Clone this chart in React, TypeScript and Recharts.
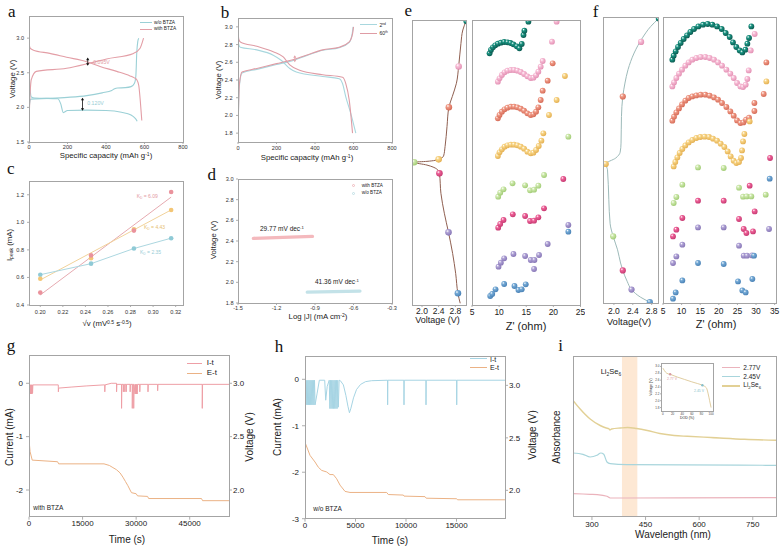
import React from 'react';
import { ComposedChart, Line, Scatter, XAxis, YAxis, ReferenceLine, ReferenceArea } from 'recharts';

const SANS = '"Liberation Sans", Arial, Helvetica, sans-serif';
const SERIF = '"Liberation Serif", "Times New Roman", serif';

type P = [number, number];
type Box = { x: number; y: number; w: number; h: number };
const xy = (a: P[]) => a.map(([x, y]) => ({ x, y }));

// ---------- a: charge/discharge profiles ----------
const aWoDischarge: P[] = [[0, 2.55], [5, 2.3], [12, 2.15], [30, 2.135], [150, 2.125], [165, 2.05], [178, 1.925], [200, 1.955], [300, 1.96], [400, 1.955], [480, 1.93], [530, 1.89], [552, 1.84], [562, 1.8]];
const aWoCharge: P[] = [[0, 1.8], [3, 2.05], [10, 2.12], [100, 2.13], [200, 2.145], [300, 2.17], [380, 2.21], [430, 2.245], [445, 2.27], [460, 2.28], [500, 2.285], [530, 2.3], [548, 2.35], [555, 2.45], [560, 2.8], [565, 2.95], [570, 3.0]];
const aWithDischarge: P[] = [[0, 2.95], [5, 2.86], [20, 2.83], [108, 2.78], [195, 2.725], [300, 2.66], [369, 2.59], [456, 2.52], [525, 2.455], [545, 2.43], [560, 2.4], [570, 2.32], [578, 2.1], [586, 1.81]];
const aWithCharge: P[] = [[0, 1.8], [4, 2.1], [12, 2.4], [38, 2.52], [195, 2.565], [316, 2.64], [403, 2.7], [543, 2.78], [577, 2.855], [595, 3.0]];
const aGapWith: P[] = [[305, 2.6], [305, 2.72]];
const aGapWo: P[] = [[278, 1.95], [278, 2.14]];

// ---------- b: 2nd vs 60th cycle ----------
const b2Discharge: P[] = [[0, 2.85], [4, 2.8], [12, 2.77], [98, 2.74], [183, 2.68], [226, 2.62], [269, 2.53], [303, 2.49], [440, 2.44], [526, 2.415], [543, 2.36], [560, 2.21], [586, 2.02], [612, 1.8]];
const b60Discharge: P[] = [[0, 2.98], [4, 2.86], [12, 2.83], [98, 2.78], [183, 2.72], [235, 2.66], [269, 2.57], [320, 2.51], [440, 2.46], [543, 2.43], [560, 2.36], [578, 2.17], [595, 1.8]];
const b2Charge: P[] = [[0, 1.8], [7, 2.33], [21, 2.48], [98, 2.52], [200, 2.575], [269, 2.61], [355, 2.675], [440, 2.735], [526, 2.765], [578, 2.825], [593, 2.92], [598, 3.0]];
const b60Charge: P[] = [[0, 1.8], [7, 2.35], [21, 2.49], [98, 2.53], [200, 2.585], [269, 2.62], [355, 2.68], [440, 2.74], [526, 2.77], [578, 2.83], [595, 2.92], [600, 3.0]];
const bGap: P[] = [[295, 2.6], [295, 2.68]];

// ---------- c: peak current vs sqrt(scan rate) ----------
const cRate = [0.2, 0.245, 0.283, 0.316];
const cPeakPink = [0.49, 0.76, 0.94, 1.22];
const cPeakYellow = [0.59, 0.74, 0.95, 1.09];
const cPeakBlue = [0.62, 0.7, 0.81, 0.885];
const cFitPink: P[] = [[0.2, 0.473], [0.316, 1.183]];
const cFitYellow: P[] = [[0.2, 0.582], [0.316, 1.09]];

// ---------- d: Tafel ----------
const dWith: P[] = [[-1.38, 2.425], [-0.92, 2.445]];
const dWo: P[] = [[-0.96, 1.905], [-0.55, 1.915]];

// ---------- e: in-situ EIS with BTZA ----------
const eCurve: P[] = [[3.052, 0.6], [2.98, 3.5], [2.935, 8.2], [2.88, 16.3], [2.826, 22.2], [2.726, 26.9], [2.645, 30.6], [2.6, 37.4], [2.554, 44.4], [2.518, 47.7], [2.4, 48.9], [2.119, 49.6], [1.811, 49.9], [2.119, 50.9], [2.355, 52.3], [2.418, 53.8], [2.454, 60.8], [2.536, 67.8], [2.636, 74.5], [2.735, 81.9], [2.808, 88.9], [2.862, 95.9], [2.917, 99.4]];
const eStates: Record<string, P> = { teal: [3.052, 0.6], pink: [2.88, 16.3], salmon: [2.645, 30.6], yellow: [2.4, 48.9], green: [1.811, 49.9], magenta: [2.418, 53.8], purple: [2.636, 74.5], blue: [2.862, 95.9] };
const eTeal: P[] = [[8.24, 251.7], [8.49, 255], [8.85, 257.7], [9.28, 259.7], [9.77, 261.3], [10.32, 262.3], [10.93, 263], [11.54, 262.7], [12.09, 262], [12.64, 260.7], [13.26, 258.7], [13.74, 256.7], [14.17, 261], [14.49, 270], [14.66, 274.3], [15.4, 283.3]];
const ePink: P[] = [[9.77, 223.3], [10.08, 226.7], [10.51, 230], [11.0, 232.7], [11.54, 234.3], [12.15, 235], [12.76, 235], [13.37, 234.3], [13.99, 233], [14.6, 231], [15.21, 228.7], [15.83, 227], [16.32, 227.3], [16.81, 229.7], [17.23, 233.3], [17.66, 238.3], [18.03, 244], [19.74, 263.3], [20.6, 283.3]];
const eSalmon: P[] = [[9.77, 186.7], [10.08, 190], [10.51, 193.3], [11.0, 195.7], [11.54, 197.3], [12.15, 198.3], [12.76, 198.3], [13.37, 197.7], [13.99, 196.3], [14.6, 194.3], [15.21, 191.7], [15.83, 190], [16.32, 190.7], [16.81, 193.3], [17.23, 197.7], [17.66, 205], [18.03, 214.3], [18.95, 224.3], [19.87, 241.7]];
const eYellow: P[] = [[9.77, 149], [10.08, 152.7], [10.51, 155.7], [11.0, 158.3], [11.54, 159.7], [12.15, 160.3], [12.76, 160.3], [13.37, 159.7], [13.99, 158.3], [14.6, 156.3], [15.21, 153.3], [15.83, 151.7], [16.32, 152.3], [16.81, 155], [17.3, 159], [17.79, 164.3], [18.15, 171.7], [19.19, 190], [20.6, 205], [22.13, 229]];
const eGreen: P[] = [[9.83, 108.3], [10.2, 112.3], [10.81, 115.7], [12.47, 121.7], [14.79, 119.7], [15.7, 114.7], [16.44, 115.3], [17.23, 119.3], [18.28, 130], [22.76, 168.3]];
const eMagenta: P[] = [[9.83, 77.3], [10.2, 81], [10.81, 85], [12.52, 90.7], [14.79, 89], [15.7, 84], [16.44, 84.3], [17.23, 87.7], [18.28, 96.7], [21.83, 126]];
const ePurple: P[] = [[9.89, 38.3], [10.32, 42.3], [10.93, 46.7], [12.64, 51], [14.79, 49], [15.83, 45], [16.51, 45], [17.36, 50], [16.44, 36], [18.95, 61], [22.76, 80]];
const eBlue: P[] = [[8.36, 9], [8.73, 11], [9.34, 15.7], [10.93, 21], [12.83, 19], [13.56, 15], [14.17, 15.7], [14.91, 20.7], [22.76, 73.3]];

// ---------- f: in-situ EIS without BTZA ----------
const fCurve: P[] = [[2.937, 0.7], [2.78, 3.3], [2.604, 7.3], [2.428, 12.6], [2.299, 18.4], [2.234, 23.1], [2.188, 27.8], [2.16, 34.8], [2.151, 44.1], [2.132, 47.3], [2.04, 49.3], [1.827, 51.4], [1.864, 53.4], [1.892, 63.9], [1.92, 72.3], [1.984, 76.7], [2.077, 81.4], [2.141, 86], [2.188, 88.6], [2.28, 92.4], [2.373, 95.3], [2.567, 98], [2.761, 99.7]];
const fStates: Record<string, P> = { teal: [2.937, 0.7], pink: [2.576, 8.7], salmon: [2.188, 27.8], yellow: [1.827, 51.4], green: [1.984, 76.7], magenta: [2.188, 88.6], purple: [2.373, 95.3], blue: [2.761, 99.7] };
const fTeal: P[] = [[7.51, 243.3], [7.87, 247.3], [8.41, 251.6], [9.03, 256], [9.75, 260], [10.56, 264], [11.45, 267.6], [12.35, 271], [13.34, 274], [14.5, 276.6], [15.76, 278.3], [17.01, 279], [18.26, 278.3], [19.52, 276.6], [20.77, 274], [21.84, 270], [22.92, 266], [23.81, 260.6], [24.71, 256], [25.61, 252.6], [26.32, 250.6], [27.14, 253.3], [27.67, 259.3], [28.12, 265], [28.74, 276.6]];
const fPink: P[] = [[7.51, 216.6], [7.96, 220.6], [8.59, 225], [9.3, 229.3], [10.11, 233.3], [11.0, 237.3], [11.9, 240.6], [12.89, 243.3], [13.96, 245], [15.13, 246], [16.38, 246], [17.55, 245], [18.71, 243.3], [19.79, 240.6], [20.86, 237.3], [22.03, 233.3], [23.1, 229.3], [24.0, 225], [24.9, 220], [25.8, 216.6], [26.51, 216], [27.22, 218.3], [27.67, 224], [28.03, 232.6], [28.57, 252.6], [29.64, 269]];
const fSalmon: P[] = [[7.51, 182.3], [7.96, 186.3], [8.59, 190.6], [9.3, 194.6], [10.11, 198.6], [11.0, 202.3], [11.9, 205], [12.89, 206.6], [13.96, 207.6], [15.13, 208.3], [16.38, 208.3], [17.55, 207.3], [18.71, 205.6], [19.79, 203.3], [20.86, 200], [22.03, 196], [23.1, 191.6], [24.0, 187.3], [24.9, 182.6], [25.8, 180], [26.61, 180.6], [27.31, 183.3], [28.12, 185.3], [29.56, 192], [29.56, 200], [32.06, 209], [32.78, 240.6]];
const fYellow: P[] = [[7.87, 136.6], [8.31, 141], [8.86, 145.6], [9.48, 150], [10.2, 154], [11.0, 157.6], [11.9, 160.6], [12.89, 163], [13.96, 165], [15.04, 166], [16.2, 166.3], [17.37, 166], [18.44, 164.3], [19.52, 162.3], [20.5, 159.3], [21.49, 156], [22.38, 151.6], [23.18, 146.6], [23.99, 142.3], [24.71, 140], [25.43, 141], [25.97, 145], [26.24, 152.6], [26.51, 161.6], [26.87, 169], [28.29, 181.6], [32.78, 221.6]];
const fGreen: P[] = [[7.87, 100], [8.59, 106], [10.2, 118.3], [14.41, 135.6], [21.31, 135], [25.43, 115.3], [26.51, 106.3], [27.49, 106.6], [28.74, 106.6], [32.6, 108.3]];
const fMagenta: P[] = [[7.69, 66.6], [8.59, 73.3], [10.2, 85], [14.41, 102.3], [21.31, 102.3], [25.43, 84], [26.69, 74], [27.41, 70], [29.19, 71.6], [29.64, 91.6], [28.29, 117.3], [33.77, 145]];
const fPurple: P[] = [[7.69, 40], [8.59, 46.6], [10.2, 58.3], [14.41, 75.6], [21.31, 75.6], [25.43, 57.3], [26.69, 47.3], [27.59, 47.3], [28.93, 47.6], [33.5, 74]];
const fBlue: P[] = [[7.69, 4.3], [8.41, 10.6], [10.2, 22.6], [14.41, 40], [21.31, 39], [25.16, 21.6], [26.32, 12.6], [27.22, 10.6], [29.01, 24], [29.46, 47.3], [33.67, 124.3]];

// ---------- g / h: potentiostatic I-t and E-t ----------
const gIt: P[] = [[0, 0.25], [30, -0.2], [100, -0.03], [160, -0.2], [230, -0.03], [300, -0.2], [370, -0.03], [440, -0.2], [510, -0.03], [580, -0.2], [650, -0.03], [720, -0.2], [790, -0.03], [860, -0.2], [930, -0.03], [1000, -0.18], [1080, -0.03],
  [8200, -0.03], [8220, -0.16], [8300, -0.09], [12000, -0.07], [16000, -0.05], [21000, -0.03],
  [21200, -0.03], [21220, -0.16], [21300, -0.03], [23000, 0.0], [24500, 0.0], [24520, -0.16], [24600, -0.02],
  [25900, -0.02], [25920, -0.47], [26000, -0.02], [26400, -0.02], [26420, -0.16], [26500, -0.02], [26800, -0.02], [26820, -0.16], [26900, -0.02], [27200, -0.02], [27220, -0.16], [27300, -0.02],
  [28300, -0.02], [28320, -0.16], [28400, -0.02], [28900, -0.02], [28920, -0.47], [29000, -0.02], [29300, -0.02], [29320, -0.47], [29400, -0.02],
  [29700, -0.2], [29800, -0.02], [29900, -0.2], [30000, -0.02], [30100, -0.2], [30200, -0.02], [30300, -0.2], [30400, -0.02],
  [31000, -0.02], [31020, -0.16], [31100, -0.02], [33300, -0.02], [33320, -0.16], [33400, -0.02], [36000, -0.02], [36020, -0.14], [36100, -0.02],
  [48500, -0.02], [48520, -0.47], [48600, -0.02], [56000, -0.02]];
const gEt: P[] = [[0, 3.2], [60, 2.45], [300, 2.36], [900, 2.28], [8000, 2.265], [8300, 2.245], [21000, 2.245], [22500, 2.23], [23500, 2.21], [24500, 2.19], [25500, 2.16], [26300, 2.12], [27000, 2.08], [27700, 2.04], [28300, 2.0], [28700, 1.975], [30000, 1.965], [30400, 1.945], [33200, 1.94], [33500, 1.92], [48300, 1.92], [48600, 1.9], [56000, 1.9]];
const hIt: P[] = [[0, 0.3], [15, -2.6], [40, -0.02],
  [120, -0.55], [170, -0.02], [230, -0.55], [280, -0.02], [340, -0.55], [390, -0.02], [450, -0.55], [500, -0.02], [560, -0.55], [610, -0.02], [670, -0.55], [720, -0.02], [780, -0.55], [830, -0.02], [890, -0.55], [940, -0.02], [1000, -0.55],
  [1200, -0.3], [1420, -0.02], [1950, -0.02], [2050, -0.45], [2200, -0.15], [2400, -0.02],
  [2460, -0.63], [2520, -0.02], [2580, -0.63], [2640, -0.02], [2700, -0.63], [2760, -0.02], [2820, -0.63], [2880, -0.02], [2940, -0.63], [3000, -0.02], [3060, -0.63], [3120, -0.02], [3180, -0.63], [3240, -0.02], [3300, -0.6], [3380, -0.02],
  [3500, -0.03], [3800, -0.12], [4050, -0.35], [4250, -0.58], [4400, -0.72], [4550, -0.62], [4800, -0.4], [5100, -0.22], [5500, -0.11], [6000, -0.05], [6600, -0.03],
  [8170, -0.02], [8180, -0.55], [8200, -0.02], [9790, -0.02], [9800, -0.55], [9820, -0.02], [11970, -0.02], [11980, -0.55], [12000, -0.02], [15010, -0.02], [15020, -0.55], [15040, -0.02], [19800, -0.02]];
const hEt: P[] = [[0, 3.2], [30, 2.45], [495, 2.333], [990, 2.27], [1320, 2.22], [1650, 2.19], [2145, 2.175], [2475, 2.15], [2805, 2.15], [3135, 2.11], [3465, 2.05], [3960, 1.99], [4455, 1.98], [8085, 1.98], [8250, 1.96], [9735, 1.955], [9800, 1.945], [11880, 1.94], [12000, 1.925], [15015, 1.92], [15100, 1.91], [19800, 1.91]];

// ---------- i: UV-vis ----------
const iLi2Se6: P[] = [[247, 1.167], [267, 1.08], [295, 0.98], [323, 0.915], [340, 0.89], [347, 0.884], [350, 0.87], [355, 0.88], [380, 0.89], [400, 0.895], [425, 0.885], [455, 0.865], [490, 0.835], [530, 0.815], [567, 0.807], [633, 0.795], [727, 0.777], [815, 0.767]];
const i245: P[] = [[247, 0.64], [275, 0.627], [295, 0.6], [314, 0.617], [325, 0.64], [333, 0.627], [342, 0.55], [351, 0.534], [398, 0.524], [815, 0.517]];
const i277: P[] = [[247, 0.234], [295, 0.227], [315, 0.224], [342, 0.207], [351, 0.19], [400, 0.19], [815, 0.194]];
const iBand: P = [384, 427];
const insetDod: P[] = [[0, 2.95], [3, 2.88], [8, 2.8], [15, 2.77], [30, 2.69], [45, 2.62], [60, 2.55], [72, 2.5], [82, 2.45], [90, 2.38], [94, 2.2], [97, 2.0], [100, 1.8]];
const insetMarks: P[] = [[15, 2.77], [82, 2.45]];

// ---------- styling ----------
const SPH: Record<string, [string, string]> = {
  teal: ['#1c9684', '#0a5a50'], pink: ['#f7bdd6', '#e391b4'], salmon: ['#f09a86', '#d66c58'], yellow: ['#f8d586', '#e4b052'],
  green: ['#cde8ab', '#a2cc76'], magenta: ['#ee6198', '#c73a72'], purple: ['#b0a3d6', '#8776b6'], blue: ['#75aad6', '#4a82b6'],
};
const ORDER = ['teal', 'pink', 'salmon', 'yellow', 'green', 'magenta', 'purple', 'blue'];
const eSeries: Record<string, P[]> = { teal: eTeal, pink: ePink, salmon: eSalmon, yellow: eYellow, green: eGreen, magenta: eMagenta, purple: ePurple, blue: eBlue };
const fSeries: Record<string, P[]> = { teal: fTeal, pink: fPink, salmon: fSalmon, yellow: fYellow, green: fGreen, magenta: fMagenta, purple: fPurple, blue: fBlue };

const f0 = (v: number) => String(v);
const f1 = (v: number) => v.toFixed(1);
const f2 = (v: number) => v.toFixed(2);
const tickLn = { stroke: '#777', strokeWidth: 0.6 };
const tSmall = { fontSize: 5.6, fill: '#333' };
const tMid = { fontSize: 8.5, fill: '#222' };
const tBig = { fontSize: 8, fill: '#222' };

const sphere = (key: string, r: number) => (p: any) => <circle cx={p.cx} cy={p.cy} r={r} fill={`url(#sph-${key})`} />;
const dotShape = (color: string, r: number) => (p: any) => <circle cx={p.cx} cy={p.cy} r={r} fill={color} />;
const arrowShape = (color: string) => (p: any) => {
  const x = p.x1; const top = Math.min(p.y1, p.y2); const bot = Math.max(p.y1, p.y2);
  return (
    <g>
      <line x1={x} y1={top + 1} x2={x} y2={bot - 1} stroke={color} strokeWidth={0.8} />
      <path d={`M${x - 1.6},${top + 2.6}L${x},${top}L${x + 1.6},${top + 2.6}Z`} fill={color} />
      <path d={`M${x - 1.6},${bot - 2.6}L${x},${bot}L${x + 1.6},${bot - 2.6}Z`} fill={color} />
    </g>
  );
};

// plot boxes (page coordinates of each plotting area)
const A: Box = { x: 29, y: 16, w: 154, h: 126 };
const B: Box = { x: 238, y: 18, w: 154, h: 124 };
const C: Box = { x: 29, y: 181, w: 154, h: 124 };
const D: Box = { x: 238, y: 179, w: 154, h: 124 };
const EL: Box = { x: 412.7, y: 20, w: 54, h: 285 };
const ER: Box = { x: 472, y: 20, w: 108.5, h: 285 };
const FL: Box = { x: 603.5, y: 17.3, w: 55, h: 286 };
const FR: Box = { x: 663, y: 17.3, w: 113.5, h: 286 };
const G: Box = { x: 29.3, y: 355, w: 200, h: 161.7 };
const H: Box = { x: 305, y: 356.7, w: 200, h: 161.7 };
const I: Box = { x: 573, y: 356.7, w: 203, h: 160 };
const INS: Box = { x: 661, y: 363, w: 52, h: 48 };

interface PlotProps { box: Box; l: number; r: number; t: number; b: number; left?: boolean; right?: boolean; children: React.ReactNode }
function Plot({ box, l, r, t, b, left = true, right = false, children }: PlotProps) {
  return (
    <div style={{ position: 'absolute', left: box.x - l, top: box.y - t }}>
      <ComposedChart width={box.w + l + r} height={box.h + t + b}
        margin={{ top: t, right: right ? 0 : r, bottom: 0, left: left ? 0 : l }}>
        {children}
      </ComposedChart>
    </div>
  );
}

const Frame = ({ b, bg }: { b: Box; bg?: string }) => (
  <div style={{ position: 'absolute', left: b.x - 0.5, top: b.y - 0.5, width: b.w + 1, height: b.h + 1, border: '1px solid #a4a4a4', boxSizing: 'border-box', background: bg, pointerEvents: 'none' }} />
);

interface TxtProps { x: number; y: number; size: number; children: React.ReactNode; color?: string; rot?: boolean; start?: boolean; family?: string }
const Txt = ({ x, y, size, children, color = '#222', rot = false, start = false, family = SANS }: TxtProps) => (
  <div style={{ position: 'absolute', left: x, top: y, transform: `translate(${start ? '0' : '-50%'},-50%)${rot ? ' rotate(-90deg)' : ''}`, fontSize: size, color, fontFamily: family, whiteSpace: 'nowrap', lineHeight: 1 }}>{children}</div>
);
const Sup = ({ children }: { children: React.ReactNode }) => <span style={{ fontSize: '0.65em', verticalAlign: '0.5em' }}>{children}</span>;
const Sub = ({ children }: { children: React.ReactNode }) => <span style={{ fontSize: '0.65em', verticalAlign: '-0.3em' }}>{children}</span>;
const Swatch = ({ x1, x2, y, color, w = 1.2 }: { x1: number; x2: number; y: number; color: string; w?: number }) => (
  <div style={{ position: 'absolute', left: x1, top: y - w / 2, width: x2 - x1, height: w, background: color }} />
);
const Letter = ({ x, y, ch }: { x: number; y: number; ch: string }) => <Txt x={x} y={y} size={17} family={SERIF} color="#111">{ch}</Txt>;

function SphereDefs() {
  return (
    <svg width={0} height={0} style={{ position: 'absolute' }}>
      <defs>
        {ORDER.map((k) => (
          <radialGradient key={k} id={`sph-${k}`} cx="40%" cy="38%" r="62%" fx="34%" fy="30%">
            <stop offset="0%" stopColor="#ffffff" stopOpacity={0.95} />
            <stop offset="35%" stopColor={SPH[k][0]} />
            <stop offset="100%" stopColor={SPH[k][1]} />
          </radialGradient>
        ))}
      </defs>
    </svg>
  );
}

const smallX = { type: 'number' as const, dataKey: 'x', tickSize: 2, tick: tSmall, tickLine: tickLn, axisLine: false, interval: 0 as const, allowDataOverflow: true };
const smallY = { type: 'number' as const, dataKey: 'y', tickSize: 2, tick: tSmall, tickLine: tickLn, axisLine: false, interval: 0 as const, allowDataOverflow: true };

export default function App() {
  return (
    <div style={{ position: 'absolute', left: 0, top: 0, width: 780, height: 549, background: '#fff', fontFamily: SANS, overflow: 'hidden' }}>
      <SphereDefs />

      {/* a */}
      <Plot box={A} l={20} r={6} t={4} b={12}>
        <XAxis {...smallX} domain={[0, 800]} ticks={[0, 200, 400, 600, 800]} height={12} tickMargin={1} tickFormatter={f0} />
        <YAxis {...smallY} domain={[1.5, 3.32]} ticks={[1.5, 2, 2.5, 3]} width={20} tickMargin={3} tickFormatter={f1} />
        <Line data={xy(aWoDischarge)} dataKey="y" type="monotone" stroke="#9bd0d6" strokeWidth={1.1} dot={false} isAnimationActive={false} />
        <Line data={xy(aWoCharge)} dataKey="y" type="monotone" stroke="#9bd0d6" strokeWidth={1.1} dot={false} isAnimationActive={false} />
        <Line data={xy(aWithDischarge)} dataKey="y" type="monotone" stroke="#e39ea6" strokeWidth={1.1} dot={false} isAnimationActive={false} />
        <Line data={xy(aWithCharge)} dataKey="y" type="monotone" stroke="#e39ea6" strokeWidth={1.1} dot={false} isAnimationActive={false} />
        <ReferenceLine segment={xy(aGapWith)} shape={arrowShape('#111')} />
        <ReferenceLine segment={xy(aGapWo)} shape={arrowShape('#111')} />
      </Plot>
      <Frame b={A} />

      {/* b */}
      <Plot box={B} l={22} r={6} t={4} b={12}>
        <XAxis {...smallX} domain={[0, 800]} ticks={[0, 200, 400, 600, 800]} height={12} tickMargin={2} tickFormatter={f0} />
        <YAxis {...smallY} domain={[1.7, 3.1]} ticks={[1.8, 2.0, 2.2, 2.4, 2.6, 2.8, 3.0]} width={22} tickMargin={3.5} tickFormatter={f1} />
        <Line data={xy(b2Discharge)} dataKey="y" type="monotone" stroke="#a8d7de" strokeWidth={1.1} dot={false} isAnimationActive={false} />
        <Line data={xy(b2Charge)} dataKey="y" type="monotone" stroke="#a8d7de" strokeWidth={1.1} dot={false} isAnimationActive={false} />
        <Line data={xy(b60Discharge)} dataKey="y" type="monotone" stroke="#df9ca5" strokeWidth={1.1} dot={false} isAnimationActive={false} />
        <Line data={xy(b60Charge)} dataKey="y" type="monotone" stroke="#df9ca5" strokeWidth={1.1} dot={false} isAnimationActive={false} />
        <ReferenceLine segment={xy(bGap)} shape={arrowShape('#e3a3aa')} />
      </Plot>
      <Frame b={B} />

      {/* c */}
      <Plot box={C} l={20} r={6} t={4} b={14}>
        <XAxis {...smallX} domain={[0.19, 0.3265]} ticks={[0.2, 0.22, 0.24, 0.26, 0.28, 0.3, 0.32]} height={14} tickMargin={3} tickFormatter={f2} />
        <YAxis {...smallY} domain={[0.4, 1.3]} ticks={[0.4, 0.6, 0.8, 1.0, 1.2]} width={20} tickMargin={3} tickFormatter={f1} />
        <Line data={xy(cFitPink)} dataKey="y" type="linear" stroke="#e6aab0" strokeWidth={1} dot={false} isAnimationActive={false} />
        <Line data={xy(cFitYellow)} dataKey="y" type="linear" stroke="#f1d29a" strokeWidth={1} dot={false} isAnimationActive={false} />
        <Line data={cRate.map((x, k) => ({ x, y: cPeakBlue[k] }))} dataKey="y" type="linear" stroke="#acd7e0" strokeWidth={1} dot={false} isAnimationActive={false} />
        <Scatter data={cRate.map((x, k) => ({ x, y: cPeakBlue[k] }))} shape={dotShape('#8fcad6', 2.3)} isAnimationActive={false} />
        <Scatter data={cRate.map((x, k) => ({ x, y: cPeakYellow[k] }))} shape={dotShape('#f3c676', 2.3)} isAnimationActive={false} />
        <Scatter data={cRate.map((x, k) => ({ x, y: cPeakPink[k] }))} shape={dotShape('#ea929c', 2.3)} isAnimationActive={false} />
      </Plot>
      <Frame b={C} />

      {/* d */}
      <Plot box={D} l={22} r={6} t={4} b={12}>
        <XAxis {...smallX} domain={[-1.5, -0.3]} ticks={[-1.5, -1.2, -0.9, -0.6, -0.3]} height={12} tickMargin={1.5} tickFormatter={f1} />
        <YAxis {...smallY} domain={[1.8, 3.0]} ticks={[1.8, 2.0, 2.2, 2.4, 2.6, 2.8, 3.0]} width={22} tickMargin={2.5} tickFormatter={f1} />
        <Line data={xy(dWith)} dataKey="y" type="linear" stroke="#f4b9bd" strokeWidth={3.4} strokeLinecap="round" dot={false} isAnimationActive={false} />
        <Line data={xy(dWo)} dataKey="y" type="linear" stroke="#c3e2e8" strokeWidth={3.4} strokeLinecap="round" dot={false} isAnimationActive={false} />
      </Plot>
      <Frame b={D} />

      {/* e: voltage trace */}
      <Plot box={EL} l={4} r={2} t={4} b={14} left={false}>
        <XAxis type="number" dataKey="x" domain={[1.784, 3.08]} ticks={[2.0, 2.4, 2.8]} height={14} tickSize={2} tickMargin={1} tick={tMid} tickLine={tickLn} axisLine={false} interval={0} tickFormatter={f1} allowDataOverflow />
        <YAxis type="number" dataKey="y" domain={[0, 100]} reversed hide allowDataOverflow />
        <Line data={xy(eCurve)} dataKey="y" type="monotoneY" stroke="#8f5f50" strokeWidth={1} dot={false} isAnimationActive={false} />
        {ORDER.map((k) => (
          <Scatter key={k} data={xy([eStates[k]])} shape={sphere(k, k === 'teal' ? 2.4 : 3.3)} isAnimationActive={false} />
        ))}
      </Plot>
      <Frame b={EL} />
      {/* e: Nyquist */}
      <Plot box={ER} l={4} r={4} t={4} b={14} left={false}>
        <XAxis type="number" dataKey="x" domain={[5, 25]} ticks={[5, 10, 15, 20, 25]} height={14} tickSize={2} tickMargin={1.5} tick={tMid} tickLine={tickLn} axisLine={false} interval={0} tickFormatter={f0} allowDataOverflow />
        <YAxis type="number" dataKey="y" domain={[0, 285]} hide allowDataOverflow />
        {ORDER.map((k) => (
          <Scatter key={k} data={xy(eSeries[k])} shape={sphere(k, 2.9)} isAnimationActive={false} />
        ))}
      </Plot>
      <Frame b={ER} />

      {/* f: voltage trace */}
      <Plot box={FL} l={4} r={2} t={4} b={14} left={false}>
        <XAxis type="number" dataKey="x" domain={[1.79, 2.955]} ticks={[2.0, 2.4, 2.8]} height={14} tickSize={2} tickMargin={2.5} tick={tMid} tickLine={tickLn} axisLine={false} interval={0} tickFormatter={f1} allowDataOverflow />
        <YAxis type="number" dataKey="y" domain={[0, 100]} reversed hide allowDataOverflow />
        <Line data={xy(fCurve)} dataKey="y" type="monotoneY" stroke="#9dbab9" strokeWidth={1} dot={false} isAnimationActive={false} />
        {ORDER.map((k) => (
          <Scatter key={k} data={xy([fStates[k]])} shape={sphere(k, k === 'teal' ? 2.4 : 3.1)} isAnimationActive={false} />
        ))}
      </Plot>
      <Frame b={FL} />
      {/* f: Nyquist */}
      <Plot box={FR} l={4} r={4} t={4} b={14} left={false}>
        <XAxis type="number" dataKey="x" domain={[5, 35.5]} ticks={[5, 10, 15, 20, 25, 30, 35]} height={14} tickSize={2} tickMargin={2.5} tick={tMid} tickLine={tickLn} axisLine={false} interval={0} tickFormatter={f0} allowDataOverflow />
        <YAxis type="number" dataKey="y" domain={[0, 286]} hide allowDataOverflow />
        {ORDER.map((k) => (
          <Scatter key={k} data={xy(fSeries[k])} shape={sphere(k, 2.9)} isAnimationActive={false} />
        ))}
      </Plot>
      <Frame b={FR} />

      {/* g */}
      <Plot box={G} l={24} r={22} t={4} b={16} right>
        <XAxis type="number" dataKey="x" domain={[0, 56000]} ticks={[0, 15000, 30000, 45000]} height={16} tickSize={3} tickMargin={1} tick={tBig} tickLine={tickLn} axisLine={false} interval={0} tickFormatter={f0} allowDataOverflow />
        <YAxis yAxisId="I" type="number" dataKey="y" domain={[-2.5, 0.53]} ticks={[-2, -1, 0]} width={24} tickSize={3} tickMargin={3} tick={tBig} tickLine={tickLn} axisLine={false} interval={0} tickFormatter={f0} allowDataOverflow />
        <YAxis yAxisId="E" orientation="right" type="number" dataKey="y" domain={[1.75, 3.265]} ticks={[2.0, 2.5, 3.0]} width={22} tickSize={3} tickMargin={1} tick={tBig} tickLine={tickLn} axisLine={false} interval={0} tickFormatter={f1} allowDataOverflow />
        <Line yAxisId="I" data={xy(gIt)} dataKey="y" type="linear" stroke="#ee9fa6" strokeWidth={1} dot={false} isAnimationActive={false} />
        <Line yAxisId="E" data={xy(gEt)} dataKey="y" type="linear" stroke="#ebb285" strokeWidth={1} dot={false} isAnimationActive={false} />
      </Plot>
      <Frame b={G} />

      {/* h */}
      <Plot box={H} l={24} r={22} t={4} b={16} right>
        <XAxis type="number" dataKey="x" domain={[0, 19800]} ticks={[0, 5000, 10000, 15000]} height={16} tickSize={3} tickMargin={1} tick={tBig} tickLine={tickLn} axisLine={false} interval={0} tickFormatter={f0} allowDataOverflow />
        <YAxis yAxisId="I" type="number" dataKey="y" domain={[-3, 0.48]} ticks={[-3, -2, -1, 0]} width={24} tickSize={3} tickMargin={3} tick={tBig} tickLine={tickLn} axisLine={false} interval={0} tickFormatter={f0} allowDataOverflow />
        <YAxis yAxisId="E" orientation="right" type="number" dataKey="y" domain={[1.73, 3.27]} ticks={[2.0, 2.5, 3.0]} width={22} tickSize={3} tickMargin={1} tick={tBig} tickLine={tickLn} axisLine={false} interval={0} tickFormatter={f1} allowDataOverflow />
        <Line yAxisId="I" data={xy(hIt)} dataKey="y" type="linear" stroke="#a6d4e3" strokeWidth={1} dot={false} isAnimationActive={false} />
        <Line yAxisId="E" data={xy(hEt)} dataKey="y" type="linear" stroke="#ebb285" strokeWidth={1} dot={false} isAnimationActive={false} />
      </Plot>
      <Frame b={H} />

      {/* i */}
      <Plot box={I} l={4} r={4} t={4} b={16} left={false}>
        <XAxis type="number" dataKey="x" domain={[247, 815]} ticks={[300, 450, 600, 750]} height={16} tickSize={3} tickMargin={1} tick={tBig} tickLine={tickLn} axisLine={false} interval={0} tickFormatter={f0} allowDataOverflow />
        <YAxis type="number" dataKey="y" domain={[0, 1.6]} hide allowDataOverflow />
        <ReferenceArea x1={iBand[0]} x2={iBand[1]} y1={0} y2={1.6} fill="#fde6cf" fillOpacity={0.9} stroke="none" />
        <Line data={xy(i277)} dataKey="y" type="monotone" stroke="#ebb3bc" strokeWidth={1.2} dot={false} isAnimationActive={false} />
        <Line data={xy(i245)} dataKey="y" type="monotone" stroke="#a8d5dc" strokeWidth={1.2} dot={false} isAnimationActive={false} />
        <Line data={xy(iLi2Se6)} dataKey="y" type="monotone" stroke="#e2d095" strokeWidth={1.4} dot={false} isAnimationActive={false} />
      </Plot>
      <Frame b={I} />

      {/* i inset */}
      <Frame b={INS} bg="#fff" />
      <Plot box={INS} l={8} r={2} t={2} b={6}>
        <XAxis type="number" dataKey="x" domain={[-4, 104]} ticks={[0, 20, 40, 60, 80, 100]} height={6} tickSize={1} tickMargin={0.5} tick={{ fontSize: 3, fill: '#444' }} tickLine={tickLn} axisLine={false} interval={0} tickFormatter={f0} allowDataOverflow />
        <YAxis type="number" dataKey="y" domain={[1.7, 3.1]} ticks={[1.8, 2.0, 2.2, 2.4, 2.6, 2.8, 3.0]} width={8} tickSize={1} tickMargin={0.5} tick={{ fontSize: 3, fill: '#444' }} tickLine={tickLn} axisLine={false} interval={0} tickFormatter={f1} allowDataOverflow />
        <Line data={xy(insetDod)} dataKey="y" type="monotone" stroke="#d8c088" strokeWidth={0.8} dot={false} isAnimationActive={false} />
        <Scatter data={xy([insetMarks[0]])} shape={dotShape('#d99aa2', 1.2)} isAnimationActive={false} />
        <Scatter data={xy([insetMarks[1]])} shape={dotShape('#86bfcb', 1.2)} isAnimationActive={false} />
      </Plot>
      <Frame b={INS} />

      {/* panel letters */}
      <Letter x={11.7} y={11.4} ch="a" />
      <Letter x={225} y={12} ch="b" />
      <Letter x={10.8} y={168} ch="c" />
      <Letter x={211.7} y={173.7} ch="d" />
      <Letter x={408.3} y={10.3} ch="e" />
      <Letter x={595.5} y={11} ch="f" />
      <Letter x={11} y={345} ch="g" />
      <Letter x={279} y={345.7} ch="h" />
      <Letter x={560.5} y={345.4} ch="i" />

      {/* a texts */}
      <Txt x={12.5} y={79} size={7.8} rot>Voltage (V)</Txt>
      <Txt x={106} y={156} size={7.8}>Specific capacity (mAh g<Sup>-1</Sup>)</Txt>
      <Txt x={93.3} y={63.3} size={5.2} start color="#e29ea5">0.095V</Txt>
      <Txt x={87.3} y={104} size={5.2} start color="#98cdd4">0.120V</Txt>
      <Swatch x1={140} x2={151.7} y={22.7} color="#9bd0d6" w={1} />
      <Swatch x1={140} x2={151.7} y={29.3} color="#e39ea6" w={1} />
      <Txt x={154} y={22.7} size={4.8} start>w/o BTZA</Txt>
      <Txt x={154} y={29.3} size={4.8} start>with BTZA</Txt>

      {/* b texts */}
      <Txt x={219} y={80} size={7.8} rot>Voltage (V)</Txt>
      <Txt x={307} y={158} size={7.8}>Specific capacity (mAh g<Sup>-1</Sup>)</Txt>
      <Swatch x1={360} x2={377} y={24.5} color="#a8d7de" w={1} />
      <Swatch x1={360} x2={377} y={33} color="#df9ca5" w={1} />
      <Txt x={379.5} y={24.5} size={5} start>2<Sup>nd</Sup></Txt>
      <Txt x={379.5} y={33} size={5} start>60<Sup>th</Sup></Txt>

      {/* c texts */}
      <Txt x={10} y={245} size={7.8} rot>I<Sub>peak</Sub> (mA)</Txt>
      <Txt x={107} y={324} size={7.8}>√v (mV<Sup>0.5</Sup> s<Sup>-0.5</Sup>)</Txt>
      <Txt x={136.7} y={197.3} size={5} start color="#e39aa3">K<Sub>D</Sub> = 6.09</Txt>
      <Txt x={144} y={227.7} size={5} start color="#e6c071">K<Sub>D</Sub> = 4.43</Txt>
      <Txt x={140} y={253.3} size={5} start color="#98cdd6">K<Sub>D</Sub> = 2.35</Txt>

      {/* d texts */}
      <Txt x={214} y={240} size={7.8} rot>Voltage (V)</Txt>
      <Txt x={318} y={317} size={7.8}>Log |J| (mA cm<Sup>-2</Sup>)</Txt>
      <Txt x={260} y={229.3} size={6.5} start>29.77 mV dec<Sup>-1</Sup></Txt>
      <Txt x={315} y={281.7} size={6.5} start>41.36 mV dec<Sup>-1</Sup></Txt>
      <div style={{ position: 'absolute', left: 351.5, top: 184, width: 3.4, height: 3.4, borderRadius: '50%', border: '0.6px solid #f0b9bd', boxSizing: 'border-box' }} />
      <div style={{ position: 'absolute', left: 351.5, top: 191.6, width: 3.4, height: 3.4, borderRadius: '50%', border: '0.6px solid #bfe0e6', boxSizing: 'border-box' }} />
      <Txt x={361.7} y={185.7} size={4.6} start>with BTZA</Txt>
      <Txt x={361.7} y={193.3} size={4.6} start>w/o BTZA</Txt>

      {/* e, f texts */}
      <Txt x={437.5} y={320} size={9}>Voltage (V)</Txt>
      <Txt x={526} y={326} size={11}>Z' (ohm)</Txt>
      <Txt x={629} y={321.5} size={9.5}>Voltage(V)</Txt>
      <Txt x={716} y={324} size={11}>Z' (ohm)</Txt>

      {/* g texts */}
      <Txt x={10} y={437} size={10} rot>Current (mA)</Txt>
      <Txt x={250} y={437} size={10} rot>Voltage (V)</Txt>
      <Txt x={127} y={540} size={10}>Time (s)</Txt>
      <Txt x={33.3} y={508.3} size={6.5} start>with BTZA</Txt>
      <Swatch x1={186.7} x2={201.7} y={363.3} color="#ee9fa6" />
      <Swatch x1={186.7} x2={201.7} y={373.3} color="#ebb285" />
      <Txt x={206.7} y={363.3} size={8} start>I-t</Txt>
      <Txt x={206.7} y={373.3} size={8} start>E-t</Txt>

      {/* h texts */}
      <Txt x={278} y={427} size={10} rot>Current (mA)</Txt>
      <Txt x={533} y={435} size={10} rot>Voltage (V)</Txt>
      <Txt x={390} y={541} size={10}>Time (s)</Txt>
      <Txt x={313.3} y={509} size={6.5} start>w/o BTZA</Txt>
      <Swatch x1={470} x2={486.7} y={358.8} color="#a6d4e3" />
      <Swatch x1={470} x2={486.7} y={367.2} color="#ebb285" />
      <Txt x={490} y={358.8} size={7} start>I-t</Txt>
      <Txt x={490} y={367.2} size={7} start>E-t</Txt>

      {/* i texts */}
      <Txt x={557} y={437} size={10} rot>Absorbance</Txt>
      <Txt x={673} y={535} size={10}>Wavelength (nm)</Txt>
      <Txt x={600.7} y={373.3} size={7.5} start>Li<Sub>2</Sub>Se<Sub>6</Sub></Txt>
      <Swatch x1={721.7} x2={740} y={367.7} color="#ebb3bc" />
      <Swatch x1={721.7} x2={740} y={376.7} color="#a8d5dc" />
      <Swatch x1={721.7} x2={740} y={386} color="#e2d095" w={2} />
      <Txt x={743.3} y={367.7} size={6.5} start>2.77V</Txt>
      <Txt x={743.3} y={376.7} size={6.5} start>2.45V</Txt>
      <Txt x={743.3} y={386} size={6.5} start>Li<Sub>2</Sub>Se<Sub>6</Sub></Txt>
      <Txt x={667} y={380} size={3.5} start color="#d99aa2">2.77 V</Txt>
      <Txt x={694} y={391.7} size={3.5} start color="#86bfcb">2.45 V</Txt>
      <Txt x={687} y={418.5} size={3.5}>DOD (%)</Txt>
      <Txt x={651.5} y={387} size={3.5} rot>Voltage (V)</Txt>
    </div>
  );
}
